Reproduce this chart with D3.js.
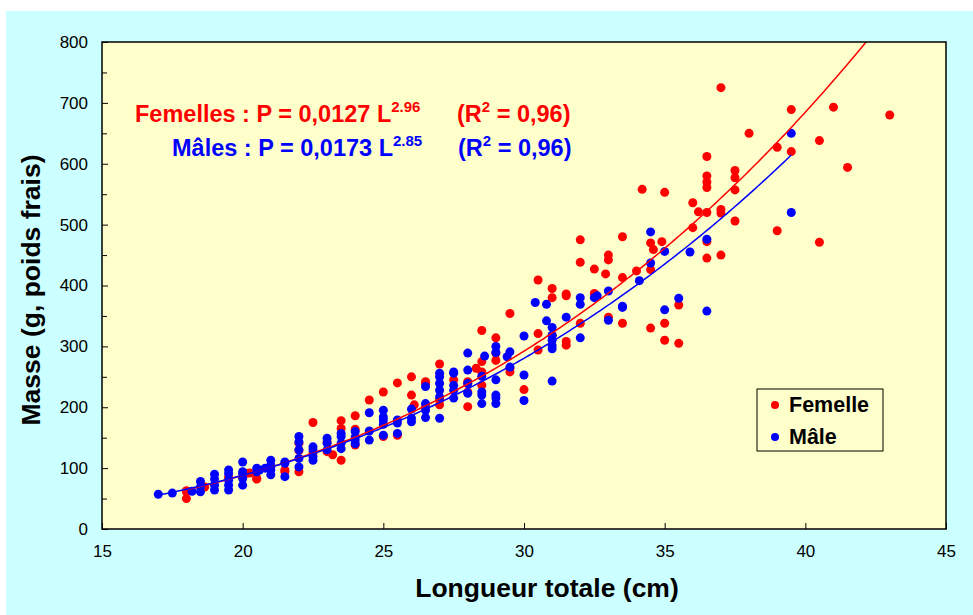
<!DOCTYPE html>
<html><head><meta charset="utf-8">
<script src="https://cdn.jsdelivr.net/npm/d3@7"></script>
<style>
html,body{margin:0;padding:0;background:#fff;}
svg{display:block;font-family:"Liberation Sans",Arial,sans-serif;}
</style></head>
<body>
<svg id="chart" width="973" height="615"></svg>
<script>
// ---- data (Longueur totale cm, Masse g) ----
const femelleL = [18,18,18,18.65,19.5,20,20.1,20.25,20.5,20.5,21.5,21.5,22,22,22,22.5,22.5,23,23,23.2,23.5,23.5,23.5,24,24,24,24.5,25,25,25.5,25.5,26,26,26.1,26.5,26.5,26.5,27,27,27,27.5,28,28,28,28,28.3,28.5,28.5,28.5,28.5,29,29,29,29.5,29.5,29.5,30,30.5,30.5,30.5,31,31,31,31.5,31.5,31.5,31.5,32,32,32,32.5,32.5,32.9,33,33,33,33.5,33.5,33.5,34,34.2,34.5,34.5,34.5,34.6,34.9,35,35,35,35.5,35.5,36,36,36.2,36.5,36.5,36.5,36.5,36.5,36.5,36.5,37,37,37,37,37.5,37.5,37.5,37.5,38,39,39,39.5,39.5,40.5,40.5,41,41.5,43];
const femelleP = [63,50,61,69,85,86,91,92,82,83,97,94,94,141,129,175,125,143,127,122,178,165,113,186,164,138,212,225,152,240,154,250,220,204,242,239,201,271,212,204,245,242,239,225,201,264,326,275,258,236,314,289,277,354,264,258,229,409,321,294,395,380,318,386,383,308,302,475,438,338,427,387,419,450,442,348,480,413,338,424,558,470,426,330,459,472,553,338,310,368,305,536,495,521,612,580,570,561,520,472,445,725,525,519,450,589,577,557,506,650,627,490,689,620,638,471,693,594,680];
const maleL = [17,17.5,18.2,18.5,18.5,18.5,19,19,19,19,19.5,19.5,19.5,19.5,19.5,20,20,20,20,20,20.5,20.5,20.6,20.8,21,21,21,21,21,21.5,21.5,21.5,22,22,22,22,22,22.5,22.5,22.5,22.5,23,23,23,23.5,23.5,23.5,23.5,24,24,24,24,24.5,24.5,24.5,25,25,25,25,25,25.5,25.5,25.5,26,26,26,26.5,26.5,26.5,26.5,27,27,27,27,27,27,27.5,27.5,27.5,27.5,27.5,28,28,28,28,28.5,28.5,28.5,28.5,28.6,29,29,29,29,29,29,29.4,29.5,29.5,30,30,30,30.4,30.8,30.8,31,31,31,31,31,31,31.5,32,32,32,32.5,32.6,33,33,33.5,33.5,34.1,34.5,34.5,35,35,35.5,35.9,36.5,36.5,39.5,39.5];
const maleP = [57,59,62,78,69,61,90,82,72,64,97,91,80,72,64,110,94,91,83,72,100,94,97,100,113,105,97,89,102,110,108,86,152,143,130,116,102,135,130,119,113,149,141,130,157,152,141,132,160,151,146,140,191,161,146,195,184,179,172,154,179,174,157,197,182,176,234,206,195,183,256,250,239,228,217,182,258,256,236,228,215,289,261,239,223,251,225,220,206,284,300,290,245,220,215,206,283,291,266,317,253,211,372,369,342,331,318,310,301,296,243,348,380,369,314,380,383,391,343,366,364,408,488,437,456,360,379,455,476,358,650,520];
const xTicks = [15,20,25,30,35,40,45];
const yTicks = [0,100,200,300,400,500,600,700,800];
const yMinor = [50,150,250,350,450,550,650,750];
// power-law fits  P = a L^b (curve as drawn in the picture)
const fitF = {a:0.0124, b:2.96, from:18, to:42.5};
const fitM = {a:0.0173, b:2.85, from:17, to:39.5};

(function(){
const svg = d3.select("#chart");
const W=973,H=615;
const pL=102,pR=946,pT=42,pB=529;
svg.append("rect").attr("x",6).attr("y",11).attr("width",W-6).attr("height",H-11).attr("fill","#ccffff");
svg.append("rect").attr("x",pL).attr("y",pT).attr("width",pR-pL).attr("height",pB-pT).attr("fill","#ffffcc");

const x = d3.scaleLinear().domain([15,45]).range([pL,pR]);
const y = d3.scaleLinear().domain([0,800]).range([pB,pT]);

svg.append("clipPath").attr("id","pc").append("rect")
  .attr("x",pL).attr("y",pT).attr("width",pR-pL).attr("height",pB-pT);

// axes
const xa = svg.append("g").attr("transform",`translate(0,${pB})`)
  .call(d3.axisBottom(x).tickValues(xTicks).tickSize(-6).tickPadding(16).tickFormat(d3.format("d")));
const ya = svg.append("g").attr("transform",`translate(${pL},0)`)
  .call(d3.axisLeft(y).tickValues(yTicks).tickSize(-6).tickPadding(14).tickFormat(d3.format("d")));
svg.append("g").attr("transform",`translate(${pL},0)`)
  .call(d3.axisLeft(y).tickValues(yMinor).tickSize(-5).tickFormat(""))
  .call(g=>g.select(".domain").remove());
[xa,ya].forEach(g=>{
  g.select(".domain").remove();
  g.selectAll(".tick text").attr("font-size",17).attr("fill","#000").attr("font-family","'Liberation Sans',Arial,sans-serif");
});
svg.selectAll(".tick line").attr("stroke","#000");

// points
const gp = svg.append("g").attr("clip-path","url(#pc)");
gp.selectAll("circle.f").data(femelleL.map((l,i)=>[l,femelleP[i]])).enter().append("circle").attr("class","f")
  .attr("cx",d=>x(d[0])).attr("cy",d=>y(d[1])).attr("r",4.5).attr("fill","#ff0000");
gp.selectAll("circle.m").data(maleL.map((l,i)=>[l,maleP[i]])).enter().append("circle").attr("class","m")
  .attr("cx",d=>x(d[0])).attr("cy",d=>y(d[1])).attr("r",4.5).attr("fill","#0000ff");

// fitted curves
function curve(f){ const pts=[]; for(let l=f.from;l<=f.to+1e-9;l+=0.1) pts.push([l,f.a*Math.pow(l,f.b)]); return pts; }
const line = d3.line().x(d=>x(d[0])).y(d=>y(d[1]));
gp.append("path").attr("d",line(curve(fitF))).attr("fill","none").attr("stroke","#ff0000").attr("stroke-width",1.5);
gp.append("path").attr("d",line(curve(fitM))).attr("fill","none").attr("stroke","#0000ff").attr("stroke-width",1.5);

// frame
svg.append("rect").attr("x",pL).attr("y",pT).attr("width",pR-pL).attr("height",pB-pT)
  .attr("fill","none").attr("stroke","#000").attr("stroke-width",1.5);

// equations
function eq(xs, yb, col, main, exp, xr){
  const t = svg.append("text").attr("y",yb).attr("fill",col).attr("font-weight","bold").attr("font-size",23.5);
  t.append("tspan").attr("x",xs).text(main);
  t.append("tspan").attr("font-size",15).attr("dy",-10).text(exp);
  const t2 = svg.append("text").attr("y",yb).attr("fill",col).attr("font-weight","bold").attr("font-size",23.5).attr("x",xr);
  t2.append("tspan").text("(R");
  t2.append("tspan").attr("font-size",15).attr("dy",-10).text("2");
  t2.append("tspan").attr("dy",10).text(" = 0,96)");
}
eq(135,122,"#ff0000","Femelles : P = 0,0127 L","2.96",457);
eq(172,156,"#0000ff","Mâles : P = 0,0173 L","2.85",458);

// axis titles
svg.append("text").attr("x",547).attr("y",597).attr("text-anchor","middle")
  .attr("font-weight","bold").attr("font-size",26.5).text("Longueur totale (cm)");
svg.append("text").attr("transform",`translate(40,290) rotate(-90)`).attr("text-anchor","middle")
  .attr("font-weight","bold").attr("font-size",26.5).text("Masse (g, poids frais)");

// legend
const lg = svg.append("g");
lg.append("rect").attr("x",757).attr("y",389).attr("width",126).attr("height",62).attr("fill","#ffffcc").attr("stroke","#000").attr("stroke-width",1);
[["Femelle","#ff0000",405],["Mâle","#0000ff",437]].forEach(([t,c,yy])=>{
  lg.append("circle").attr("cx",775).attr("cy",yy).attr("r",4).attr("fill",c);
  lg.append("text").attr("x",789).attr("y",yy+7).attr("font-weight","bold").attr("font-size",21.5).attr("fill","#000").text(t);
});
})();
</script>
</body></html>
